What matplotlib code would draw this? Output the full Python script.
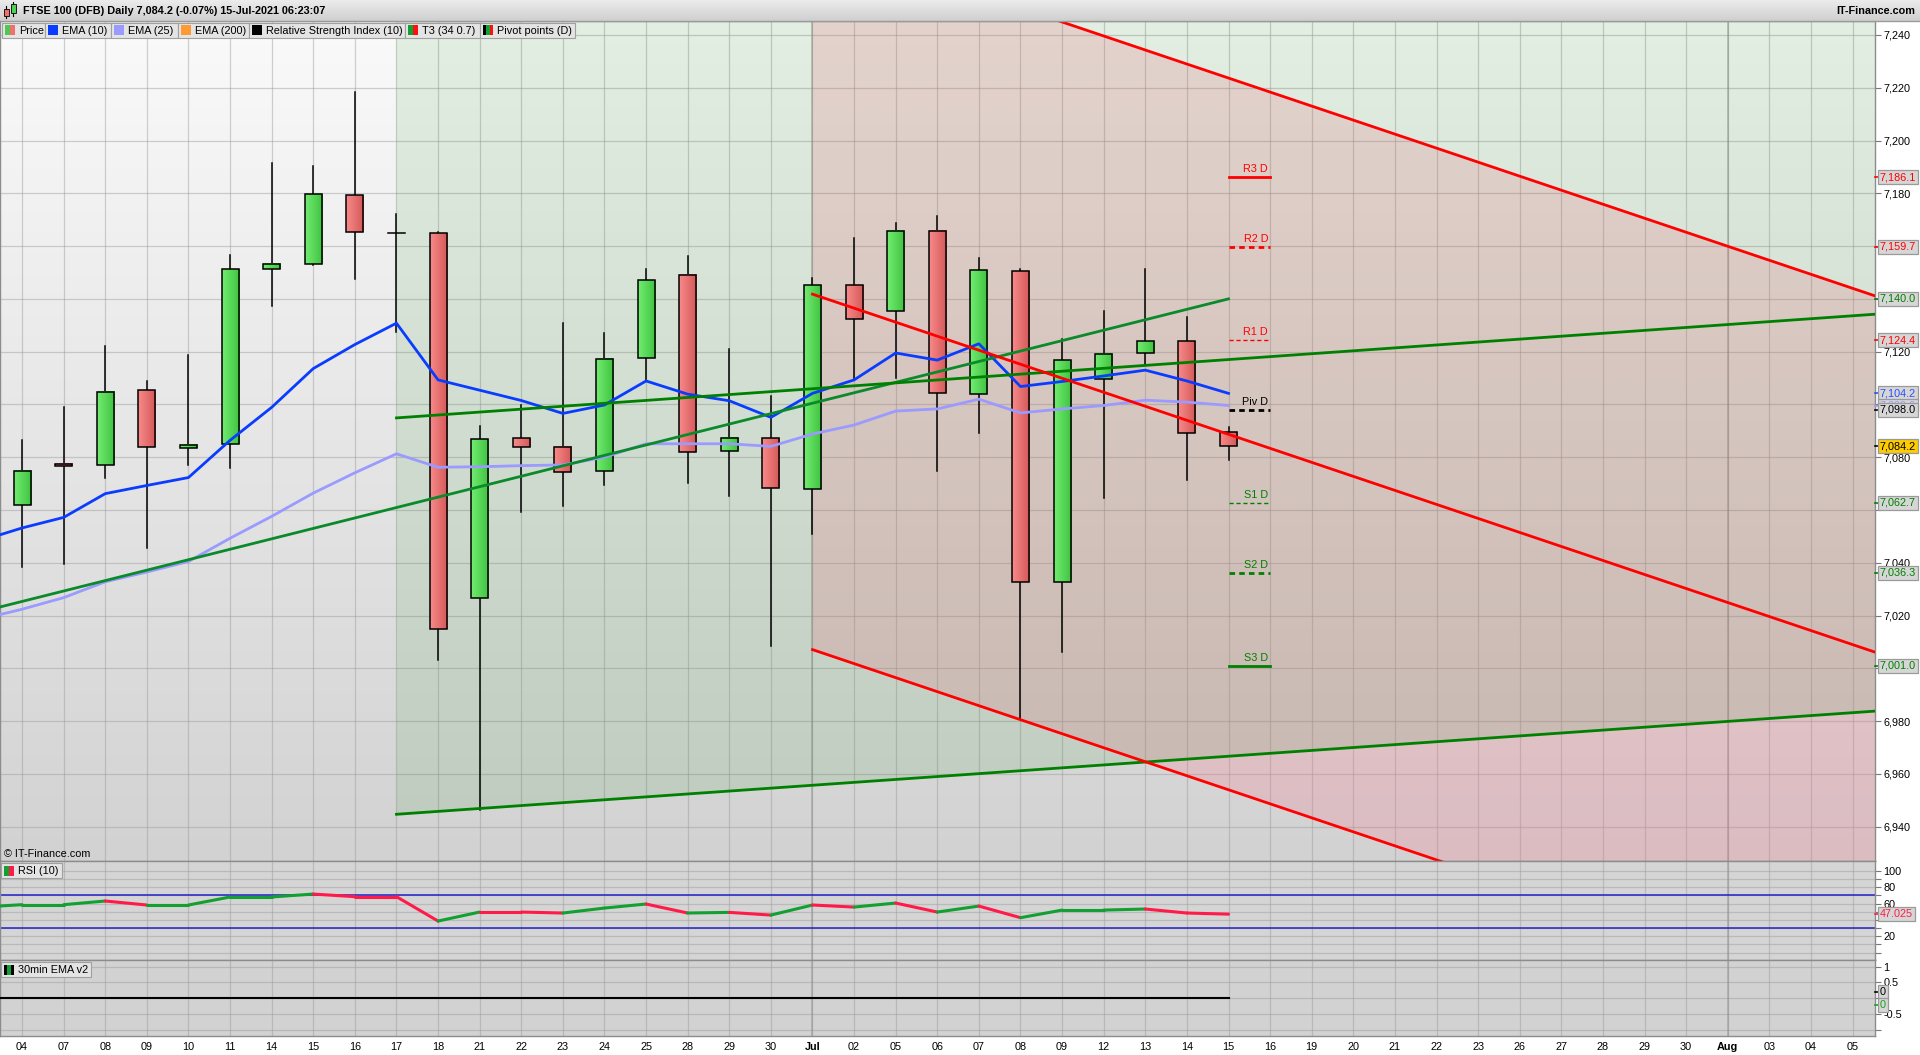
import numpy as np
import matplotlib.pyplot as plt
import matplotlib.transforms as mtransforms
from matplotlib.colors import LinearSegmentedColormap
from matplotlib.patches import Rectangle

plt.rcParams['font.family'] = ['Liberation Sans', 'DejaVu Sans']
plt.rcParams['font.size'] = 7.8

W, H = 1920, 1055

# trading days on the axis, Jun 04 .. Aug 05 2021
day_labels = ['04', '07', '08', '09', '10', '11', '14', '15', '16', '17', '18', '21', '22', '23',
              '24', '25', '28', '29', '30', 'Jul', '02', '05', '06', '07', '08', '09', '12', '13',
              '14', '15', '16', '19', '20', '21', '22', '23', '26', '27', '28', '29', '30', 'Aug',
              '03', '04', '05']

# FTSE 100 daily candles (Jun 04 .. Jul 15)
opens = [7061.8, 7077.4, 7077.1, 7105.3, 7083.5, 7084.9, 7151.2, 7153.4, 7179.3, 7165.1,
         7165.0, 7026.7, 7087.3, 7084.0, 7074.6, 7117.6, 7149.1, 7082.2, 7087.3, 7068.0,
         7145.1, 7135.4, 7165.9, 7103.9, 7150.4, 7032.9, 7109.6, 7119.5, 7123.9, 7089.5]
highs = [7086.4, 7098.9, 7122.2, 7108.8, 7118.9, 7156.7, 7191.6, 7190.3, 7218.3, 7172.3,
         7165.3, 7092.0, 7099.9, 7131.0, 7127.2, 7151.4, 7156.1, 7121.1, 7103.3, 7148.0,
         7163.1, 7168.8, 7171.4, 7155.5, 7151.4, 7124.9, 7135.4, 7151.4, 7133.3, 7091.6]
lows = [7038.3, 7039.4, 7072.1, 7045.7, 7076.9, 7075.8, 7137.2, 7153.0, 7147.7, 7127.3,
        7003.1, 6946.3, 7059.1, 7061.5, 7069.5, 7108.9, 7070.1, 7065.3, 7008.4, 7050.8,
        7109.1, 7110.2, 7074.6, 7089.3, 6980.7, 7006.3, 7064.5, 7115.2, 7071.2, 7078.8]
closes = [7074.7, 7076.5, 7104.9, 7083.8, 7084.8, 7151.2, 7153.4, 7179.6, 7165.5, 7165.1,
          7015.1, 7086.9, 7084.0, 7074.5, 7117.2, 7147.1, 7081.9, 7087.3, 7068.4, 7145.1,
          7132.3, 7165.9, 7104.3, 7150.8, 7032.9, 7116.8, 7119.1, 7123.9, 7089.2, 7084.2]

# indicators, first value is Jun 03 (off the left edge)
ema10_vals = [7048.3, 7053.2, 7057.2, 7066.2, 7069.3, 7072.3, 7086.4, 7098.9, 7113.6, 7122.7,
              7130.8, 7109.3, 7105.4, 7101.5, 7096.6, 7099.8, 7108.9, 7103.9, 7101.4, 7095.1,
              7104.2, 7109.3, 7119.5, 7116.8, 7123.0, 7106.8, 7108.7, 7110.8, 7113.0, 7108.9,
              7104.2]
ema25_vals = [7018.6, 7022.4, 7026.8, 7032.8, 7036.5, 7040.5, 7049.3, 7057.6, 7066.4, 7074.1,
              7081.3, 7076.2, 7076.4, 7076.8, 7077.1, 7080.0, 7085.1, 7085.1, 7085.1, 7084.1,
              7088.8, 7092.2, 7097.5, 7098.3, 7102.0, 7096.8, 7098.3, 7099.6, 7101.6, 7100.9,
              7099.6]
rsi_vals = [55.6, 58.6, 58.6, 63.1, 58.2, 58.2, 68.0, 68.0, 71.6, 68.4, 68.4, 38.6, 49.6, 49.6,
            48.4, 54.5, 59.4, 48.4, 49.2, 45.9, 58.2, 55.7, 60.6, 49.6, 56.9, 42.7, 52.0, 52.0,
            53.3, 48.4, 47.025]
ema30m_vals = [0.0] * 31

pivot_names = ['R3 D', 'R2 D', 'R1 D', 'Piv D', 'S1 D', 'S2 D', 'S3 D']
pivot_vals = [7186.1, 7159.7, 7124.4, 7098.0, 7062.7, 7036.3, 7001.0]

# trend lines as (day index, price)
green_up = ([-1, 29], [7021.4, 7140.0])
green_top = ([9, 45], [7094.9, 7134.7])
green_bot = ([9, 45], [6944.7, 6984.3])
red_top = ([19, 45], [7276.8, 7138.7])
red_mid = ([19, 45], [7141.8, 7003.7])
red_bot = ([19, 45], [7007.1, 6869.0])

RED = '#ff0000'
GREEN = '#008000'
XLIM = (-0.53, 44.54)


def px_axes(x0, y0, x1, y1):
    return [x0 / W, 1 - y1 / H, (x1 - x0) / W, (y1 - y0) / H]


def vgrad(ax, c_top, c_bot, ylim):
    cm = LinearSegmentedColormap.from_list('g', [c_bot, c_top])
    ax.imshow(np.linspace(0, 1, 256).reshape(-1, 1), cmap=cm, origin='lower', aspect='auto',
              extent=[XLIM[0], XLIM[1], ylim[0], ylim[1]], zorder=0)


fig = plt.figure(figsize=(W / 100, H / 100), dpi=100, facecolor='white')
ax = fig.add_axes(px_axes(0, 21, 1875, 861))
rsi = fig.add_axes(px_axes(0, 861, 1875, 960))
low = fig.add_axes(px_axes(0, 960, 1875, 1036))

days = np.arange(len(day_labels))
n = len(closes)
ind_x = np.arange(-1, n)

# ---- main price panel
YLIM = (6927.0, 7245.3)
vgrad(ax, '#fafafa', '#d2d2d2', YLIM)

# red channel first, green channel tint on top of it
ax.fill_between(np.array(red_top[0]), red_top[1], red_bot[1], color='#fc667f', alpha=0.2,
                lw=0, zorder=1)
ax.fill_between(np.array(green_bot[0]), green_bot[1], [7400, 7400], color='#008000',
                alpha=0.09, lw=0, zorder=1.1)

cm_up = LinearSegmentedColormap.from_list('up', ['#72ec72', '#3fc23f'])
cm_dn = LinearSegmentedColormap.from_list('dn', ['#f88a8a', '#d45858'])
bw = 0.41
hg = np.linspace(0, 1, 32).reshape(1, -1)
for i in range(n):
    o, h, l, c = opens[i], highs[i], lows[i], closes[i]
    lo_b, hi_b = min(o, c), max(o, c)
    ax.plot([i, i], [l, h], color='black', lw=1.1, zorder=3)
    if c == o:
        ax.plot([i - bw / 2, i + bw / 2], [c, c], color='black', lw=1.1, zorder=4)
        continue
    ax.imshow(hg, cmap=cm_up if c > o else cm_dn, aspect='auto',
              extent=[i - bw / 2, i + bw / 2, lo_b, hi_b], zorder=4)
    ax.add_patch(Rectangle((i - bw / 2, lo_b), bw, hi_b - lo_b, fill=False, ec='black',
                           lw=1.1, zorder=5))

ax.plot(ind_x, ema25_vals, color='#9a9aff', lw=2, zorder=6)
ax.plot(ind_x, ema10_vals, color='#0a3cff', lw=2, zorder=6)
for xs, ys in (green_up, green_top, green_bot):
    ax.plot(xs, ys, color='#0a8a2a' if xs[0] < 0 else GREEN, lw=2, zorder=6)
for xs, ys in (red_top, red_mid, red_bot):
    ax.plot(xs, ys, color=RED, lw=2, zorder=6)

piv_style = [(RED, '-', 2), (RED, (0, (2, 1.5)), 2), (RED, (0, (3, 2)), 1),
             ('black', (0, (2, 1.5)), 2), (GREEN, (0, (3, 2)), 1),
             (GREEN, (0, (2, 1.5)), 2), (GREEN, '-', 2)]
for name, v, (col, ls, lw) in zip(pivot_names, pivot_vals, piv_style):
    ax.plot([n - 1, n], [v, v], color=col, ls=ls, lw=lw, zorder=6)
    ax.annotate(name, (n - 0.05, v), xytext=(0, 2), textcoords='offset points', ha='right',
                va='bottom', color=col, fontsize=7.8, zorder=7)

ax.set_xlim(XLIM)
ax.set_ylim(YLIM)
yt = np.arange(6940, 7241, 20)
hidden = {7000, 7060, 7100, 7140, 7160}   # sit under the value boxes
ax.set_yticks(yt)
labs = ax.set_yticklabels(['' if v in hidden else f'{v:,}' for v in yt])
for t in labs:
    if t.get_text() == '7,200':
        t.set_fontweight('bold')
ax.text(0.002, 0.002, '© IT-Finance.com', transform=ax.transAxes, ha='left', va='bottom',
        fontsize=7.8, zorder=8)

# ---- RSI panel
rsi.set_facecolor('#d5d5d5')
rsi.axhline(70, color='#2323c8', lw=1.1, zorder=2)
rsi.axhline(30, color='#2323c8', lw=1.1, zorder=2)
up = [True] + [closes[i] > closes[i - 1] for i in range(1, n)]
for k in range(1, len(rsi_vals)):
    rsi.plot(ind_x[k - 1:k + 1], rsi_vals[k - 1:k + 1], color='#12a032' if up[k - 1] else '#ff1a4a',
             lw=2.2, solid_capstyle='round', zorder=3)
rsi.set_xlim(XLIM)
rsi.set_ylim(-9, 112)
rsi.set_yticks([0, 10, 20, 30, 40, 50, 60, 70, 80, 90, 100])
rl = rsi.set_yticklabels(['', '', '20', '', '', '', '60', '', '80', '', '100'])
rl[-1].set_fontweight('bold')

# ---- 30min EMA panel
low.set_facecolor('#d2d2d2')
low.plot(ind_x, ema30m_vals, color='black', lw=1.5, zorder=3)
low.set_xlim(XLIM)
low.set_ylim(-1.19, 1.21)
low.set_yticks([-1, -0.5, 0, 0.5, 1])
low.set_yticklabels(['', '-0.5', '', '0.5', '1'])

for a in (ax, rsi, low):
    a.yaxis.tick_right()
    a.set_axisbelow(True)
    a.set_xticks(days)
    a.grid(True, color='#9a9a9a', alpha=0.45, lw=0.9)
    for d, lab in zip(days, day_labels):
        if lab in ('Jul', 'Aug'):
            a.axvline(d, color='#8a8a8a', alpha=0.55, lw=1.1, zorder=0.6)
    a.tick_params(axis='y', direction='out', length=4, color='#777777', pad=2, labelsize=7.8)
    a.tick_params(axis='x', length=0)
    for s in a.spines.values():
        s.set_color('#8c8c8c')
        s.set_linewidth(1)
ax.set_xticklabels([])
rsi.set_xticklabels([])
xl = low.set_xticklabels(day_labels)
for t in xl:
    if t.get_text() in ('Jul', 'Aug'):
        t.set_fontweight('bold')
low.tick_params(axis='x', pad=4, labelsize=7.8)


# ---- value boxes on the right scale
def value_box(a, v, s, col, face='#d6d6d6'):
    tr = mtransforms.blended_transform_factory(a.transAxes, a.transData)
    a.plot([1.0, 1.0035], [v, v], transform=tr, color=col, lw=1.2, clip_on=False, zorder=9)
    a.text(1.0025, v, s, transform=tr, ha='left', va='center', color=col, fontsize=7.8,
           clip_on=False, zorder=10,
           bbox=dict(boxstyle='square,pad=0.18', fc=face, ec='#9a9a9a', lw=0.9))


value_box(ax, pivot_vals[0], '7,186.1', RED)
value_box(ax, pivot_vals[1], '7,159.7', RED)
value_box(ax, green_up[1][1], '7,140.0', GREEN)
value_box(ax, pivot_vals[2], '7,124.4', RED)
value_box(ax, ema10_vals[-1], '7,104.2', '#2a4dff')
value_box(ax, ema25_vals[-1], '7,099.6', '#9a9aff')
value_box(ax, pivot_vals[3], '7,098.0', 'black')
value_box(ax, closes[-1], '7,084.2', 'black', face='#ffcc00')
value_box(ax, pivot_vals[4], '7,062.7', GREEN)
value_box(ax, pivot_vals[5], '7,036.3', GREEN)
value_box(ax, pivot_vals[6], '7,001.0', GREEN)
value_box(rsi, rsi_vals[-1], '47.025', '#ff1a4a')
value_box(low, 0.19, '0', 'black')
value_box(low, -0.22, '0', '#1aa01a')

# ---- header bar, legend boxes, panel captions (pixel overlay)
ov = fig.add_axes([0, 0, 1, 1])
ov.set_xlim(0, W)
ov.set_ylim(H, 0)
ov.axis('off')
ov.set_zorder(20)
cm_bar = LinearSegmentedColormap.from_list('bar', ['#ececec', '#cfcfcf'])
ov.imshow(np.linspace(0, 1, 64).reshape(-1, 1), cmap=cm_bar, aspect='auto',
          extent=[0, W, 21, 0], zorder=1)
ov.plot([0, W], [21, 21], color='#9a9a9a', lw=1, zorder=2)
# little candle icon
ov.plot([6, 6], [6, 18], color='black', lw=0.8, zorder=2)
ov.add_patch(Rectangle((3.5, 9), 5, 7, fc='#f07070', ec='black', lw=0.6, zorder=3))
ov.plot([13, 13], [2, 16], color='black', lw=0.8, zorder=2)
ov.add_patch(Rectangle((10.5, 4), 5, 9, fc='#50d050', ec='black', lw=0.6, zorder=3))
ov.text(23, 11, 'FTSE 100 (DFB) Daily 7,084.2 (-0.07%) 15-Jul-2021 06:23:07', ha='left',
        va='center', fontweight='bold', fontsize=7.8, zorder=3)
ov.text(1915, 11, 'IT-Finance.com', ha='right', va='center', fontweight='bold', fontsize=7.8,
        zorder=3)

legend_items = [('Price', ['#50c850', '#f07070']), ('EMA (10)', ['#0a3cff']),
                ('EMA (25)', ['#9a9aff']), ('EMA (200)', ['#ff9933']),
                ('Relative Strength Index (10)', ['black']), ('T3 (34 0.7)', ['#12a032', '#ff1010']),
                ('Pivot points (D)', ['black', '#12a032', '#ff1010'])]
legend_x = [2, 44.6, 110.7, 177.7, 249, 405, 480, 575]


def caption(x0, x1, y0, y1, label, cols):
    ov.add_patch(Rectangle((x0, y0), x1 - x0, y1 - y0, fc='#e4e4e4', ec='#a0a0a0', lw=0.8,
                           zorder=3))
    iw = 10 / len(cols)
    for k, c in enumerate(cols):
        ov.add_patch(Rectangle((x0 + 3 + k * iw, y0 + 2.5), iw, y1 - y0 - 5, fc=c, lw=0,
                               zorder=4))
    ov.text(x0 + 17, (y0 + y1) / 2 + 0.5, label, ha='left', va='center', fontsize=7.8, zorder=4)


for k, (label, cols) in enumerate(legend_items):
    caption(legend_x[k], legend_x[k + 1], 22.5, 37.5, label, cols)
caption(1, 62, 863, 878, 'RSI (10)', ['#12a032', '#ff1a4a'])
caption(1, 91, 962, 977, '30min EMA v2', ['black', '#12a032', 'black'])

fig.savefig('out.png', dpi=100, facecolor='white')
